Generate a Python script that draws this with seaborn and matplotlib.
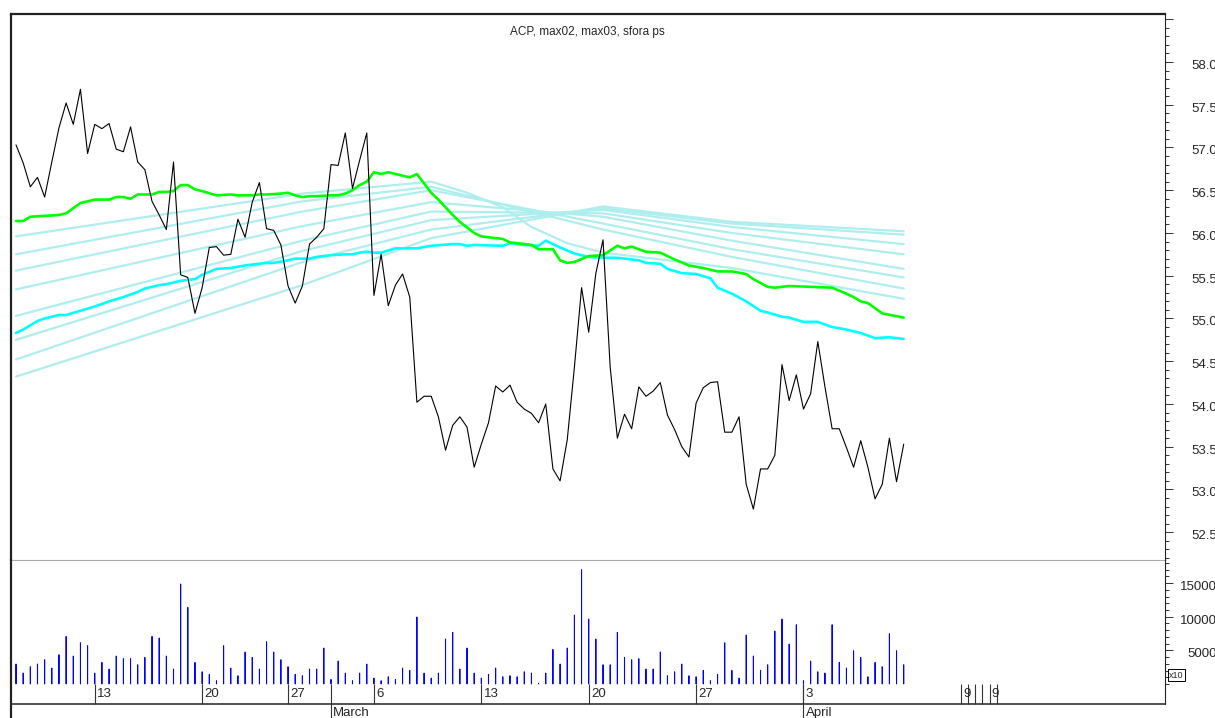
import numpy as np
import pandas as pd
import seaborn as sns
import matplotlib.pyplot as plt
from matplotlib import transforms
from matplotlib.ticker import FixedLocator

# x axis is the bar number (one bar per session)
price = [57.03, 56.82, 56.54, 56.65, 56.42, 56.83, 57.23, 57.52, 57.27, 57.68,
         56.93, 57.27, 57.22, 57.28, 56.98, 56.95, 57.24, 56.83, 56.74, 56.37,
         56.21, 56.04, 56.83, 55.51, 55.48, 55.06, 55.36, 55.83, 55.84, 55.74,
         55.75, 56.16, 55.95, 56.36, 56.59, 56.05, 56.03, 55.86, 55.38, 55.18,
         55.38, 55.87, 55.95, 56.05, 56.80, 56.79, 57.17, 56.52, 56.85, 57.17,
         55.27, 55.75, 55.15, 55.39, 55.52, 55.25, 54.02, 54.09, 54.09, 53.85,
         53.46, 53.75, 53.85, 53.73, 53.26, 53.53, 53.78, 54.21, 54.14, 54.22,
         54.02, 53.94, 53.89, 53.78, 54.00, 53.24, 53.10, 53.58, 54.43, 55.36,
         54.84, 55.53, 55.92, 54.43, 53.60, 53.88, 53.71, 54.20, 54.09, 54.15,
         54.25, 53.87, 53.70, 53.50, 53.38, 54.01, 54.19, 54.25, 54.26, 53.67,
         53.67, 53.85, 53.06, 52.77, 53.24, 53.24, 53.40, 54.46, 54.04, 54.34,
         53.94, 54.12, 54.73, 54.20, 53.71, 53.71, 53.49, 53.26, 53.57, 53.26,
         52.89, 53.06, 53.60, 53.09, 53.53]

volume = [2970, 1630, 2580, 2970, 3620, 2380, 4360, 7080, 4160, 6140,
          5700, 1630, 3220, 2230, 4160, 3770, 3770, 2870, 3960, 7080,
          6840, 4160, 2230, 14860, 11390, 3220, 1830, 1440, 500, 5700,
          2380, 1240, 4760, 3960, 2230, 6290, 4760, 3620, 2580, 1440,
          1240, 2230, 2230, 5350, 690, 3420, 1630, 500, 1630, 2970,
          890, 500, 1090, 690, 2380, 2030, 9960, 1630, 890, 1630,
          6690, 7680, 2230, 5350, 1630, 890, 1440, 2380, 1090, 1240,
          1090, 1830, 1630, 100, 1630, 5150, 2970, 5350, 10250, 16990,
          9660, 6690, 2870, 2870, 7680, 3960, 3620, 3770, 2230, 2230,
          4760, 1240, 1830, 2970, 1240, 1090, 2030, 500, 1440, 6140,
          2030, 890, 7280, 4160, 2030, 2870, 7880, 9660, 5940, 8820,
          500, 3420, 1830, 1630, 8820, 3220, 2380, 4950, 3960, 1090,
          3220, 2580, 7480, 4950, 2870]

green_x = [0, 1, 2, 4, 6, 7, 8, 9, 10, 11, 13, 14, 15, 16, 17, 19, 20, 21, 22, 23,
           24, 25, 26, 28, 30, 31, 33, 34, 35, 37, 38, 39, 40, 41, 42, 44, 45, 46, 47, 48,
           49, 50, 51, 52, 53, 54, 55, 56, 58, 59, 61, 62, 64, 65, 66, 68, 69, 71, 72, 73,
           75, 76, 77, 78, 80, 82, 84, 85, 86, 88, 90, 92, 94, 96, 98, 100, 102, 103, 105, 106,
           108, 114, 116, 117, 118, 119, 121, 124]
green_y = [56.14, 56.14, 56.19, 56.20, 56.21, 56.23, 56.29, 56.35, 56.37, 56.39,
           56.39, 56.42, 56.42, 56.40, 56.45, 56.45, 56.48, 56.48, 56.49, 56.56,
           56.56, 56.51, 56.49, 56.44, 56.45, 56.44, 56.44, 56.45, 56.45, 56.46,
           56.47, 56.44, 56.42, 56.43, 56.43, 56.44, 56.44, 56.46, 56.50, 56.56,
           56.60, 56.71, 56.69, 56.71, 56.69, 56.67, 56.65, 56.69, 56.47, 56.39,
           56.21, 56.13, 56.00, 55.96, 55.95, 55.93, 55.89, 55.87, 55.86, 55.81,
           55.81, 55.68, 55.65, 55.66, 55.73, 55.74, 55.85, 55.82, 55.84, 55.78,
           55.77, 55.69, 55.62, 55.59, 55.55, 55.55, 55.52, 55.46, 55.37, 55.36,
           55.38, 55.36, 55.29, 55.25, 55.20, 55.18, 55.06, 55.01]

cyan_x = [0, 1, 3, 4, 6, 7, 9, 11, 13, 15, 17, 18, 20, 21, 23, 24, 25, 26, 28, 30,
          32, 33, 35, 36, 38, 39, 41, 42, 44, 46, 47, 48, 49, 50, 51, 53, 55, 56, 58, 61,
          62, 63, 64, 68, 69, 71, 73, 74, 76, 78, 80, 82, 84, 86, 87, 88, 90, 91, 93, 95,
          97, 98, 100, 102, 104, 105, 107, 108, 110, 112, 114, 116, 118, 120, 122, 124]
cyan_y = [54.83, 54.87, 54.97, 55.00, 55.04, 55.04, 55.09, 55.14, 55.20, 55.25,
          55.31, 55.35, 55.39, 55.40, 55.44, 55.45, 55.46, 55.51, 55.58, 55.59,
          55.62, 55.63, 55.65, 55.65, 55.68, 55.70, 55.70, 55.72, 55.74, 55.75,
          55.75, 55.77, 55.78, 55.77, 55.77, 55.82, 55.82, 55.82, 55.85, 55.87,
          55.87, 55.85, 55.86, 55.85, 55.88, 55.86, 55.85, 55.91, 55.83, 55.76,
          55.72, 55.71, 55.71, 55.69, 55.68, 55.65, 55.64, 55.58, 55.53, 55.52,
          55.47, 55.36, 55.29, 55.20, 55.09, 55.07, 55.02, 55.01, 54.96, 54.96,
          54.90, 54.87, 54.83, 54.77, 54.78, 54.76]

# pale band lines; the first one peaks early and drops fastest
pale_steep_x = [0, 40, 58, 63, 68, 72, 77, 82, 100, 124]
pale_steep_y = [55.96, 56.46, 56.60, 56.47, 56.30, 56.07, 55.88, 55.77, 55.59, 55.23]
pale_x = [0, 40, 58, 82, 100, 124]
pale_rest = [
    [55.75, 56.37, 56.54, 56.04, 55.72, 55.35],
    [55.56, 56.25, 56.50, 56.11, 55.81, 55.48],
    [55.34, 56.08, 56.36, 56.19, 55.91, 55.58],
    [55.03, 55.91, 56.25, 56.23, 56.00, 55.75],
    [54.75, 55.79, 56.15, 56.27, 56.07, 55.87],
    [54.52, 55.66, 56.04, 56.29, 56.11, 55.98],
    [54.32, 55.39, 55.94, 56.31, 56.13, 56.02],
]

price_ticks = [52.5, 53.0, 53.5, 54.0, 54.5, 55.0, 55.5, 56.0, 56.5, 57.0, 57.5, 58.0]
vol_ticks = [5000, 10000, 15000]
day_tick_pos = [11, 26, 38, 50, 65, 80, 95, 110, 132, 133, 134, 135, 136, 137]
day_label_pos = [11, 26, 38, 50, 65, 80, 95, 110, 132, 136]
day_labels = ["13", "20", "27", "6", "13", "20", "27", "3", "9", "9"]
month_pos = [44, 110]
month_labels = ["March", "April"]

sns.set_style("white")
plt.rcParams["font.family"] = ["Liberation Sans", "DejaVu Sans"]

W, H = 1215, 718
fig = plt.figure(figsize=(W / 100, H / 100), dpi=100)
ax = fig.add_axes([11 / W, 1 - 560 / H, 1154 / W, 546 / H])
axv = fig.add_axes([11 / W, 1 - 704 / H, 1154 / W, 144 / H])
axv.patch.set_visible(False)

# price panel
for yv in pale_rest:
    sns.lineplot(x=pale_x, y=yv, ax=ax, color="#afeeee", linewidth=1.6)
sns.lineplot(x=pale_steep_x, y=pale_steep_y, ax=ax, color="#afeeee", linewidth=1.6)
sns.lineplot(x=cyan_x, y=cyan_y, ax=ax, color="#00ffff", linewidth=1.9)
sns.lineplot(x=green_x, y=green_y, ax=ax, color="#00ff00", linewidth=1.9)
idx = np.arange(len(price))
sns.lineplot(x=idx, y=price, ax=ax, color="black", linewidth=0.8)

# volume panel: thin bars, the edge stroke keeps every bar about 1px wide
vol_df = pd.DataFrame({"bar": np.arange(len(volume)), "volume": volume})
sns.barplot(data=vol_df, x="bar", y="volume", ax=axv, native_scale=True,
            width=0.02, color="#0000ff", saturation=1, errorbar=None,
            linewidth=0.7, edgecolor="#0000ff")
for p in axv.patches:
    p.set_snap(False)

xlim = (-0.7, 160.5)
for a in (ax, axv):
    a.set_xlim(*xlim)
    a.set_xlabel("")
    a.set_ylabel("")

ax.set_ylim(52.175, 58.561)
axv.set_ylim(-2972, 18425)

# right hand scales
ax.yaxis.tick_right()
ax.yaxis.set_major_locator(FixedLocator(price_ticks + [58.5]))
ax.yaxis.set_minor_locator(FixedLocator(np.round(np.arange(52.2, 58.55, 0.1), 1)))
ax.set_yticklabels([])
ax.tick_params(axis="y", which="major", length=5.5, width=0.7, color="#333333", direction="out")
ax.tick_params(axis="y", which="minor", length=3, width=0.7, color="#333333", direction="out")
ax.tick_params(axis="x", bottom=False, labelbottom=False)

axv.yaxis.tick_right()
axv.yaxis.set_major_locator(FixedLocator(vol_ticks))
axv.yaxis.set_minor_locator(FixedLocator(list(range(0, 18001, 1000))))
axv.set_yticklabels([])
axv.tick_params(axis="y", which="major", length=5.5, width=0.7, color="#333333", direction="out")
axv.tick_params(axis="y", which="minor", length=3, width=0.7, color="#333333", direction="out")

# date axis
axv.xaxis.remove_overlapping_locs = False
axv.xaxis.set_major_locator(FixedLocator(day_tick_pos))
axv.xaxis.set_minor_locator(FixedLocator(month_pos))
axv.set_xticklabels([])
axv.tick_params(axis="x", which="major", direction="in", length=14.4, width=0.8,
                color="#333333", bottom=True, labelbottom=False)
axv.tick_params(axis="x", which="minor", direction="inout", length=28.8, width=0.8,
                color="#333333", bottom=True, labelbottom=False)

# spines
for side in ("left", "top"):
    ax.spines[side].set_linewidth(1.6)
    ax.spines[side].set_color("#222222")
ax.spines["right"].set_linewidth(0.8)
ax.spines["right"].set_color("#222222")
ax.spines["bottom"].set_linewidth(0.8)
ax.spines["bottom"].set_color("#aaaaaa")

axv.spines["top"].set_visible(False)
axv.spines["left"].set_linewidth(1.6)
axv.spines["left"].set_color("#222222")
axv.spines["left"].set_bounds(-5300, 18425)
axv.spines["right"].set_linewidth(0.8)
axv.spines["right"].set_color("#222222")
axv.spines["bottom"].set_linewidth(1.2)
axv.spines["bottom"].set_color("#333333")

# tick labels as text, right aligned at the figure edge
lab_x = (1217 - 11) / 1154
shift = transforms.ScaledTranslation(0, -0.04, fig.dpi_scale_trans)
ptrans = transforms.blended_transform_factory(ax.transAxes, ax.transData) + shift
for v in price_ticks:
    ax.text(lab_x, v, f"{v:.1f}", transform=ptrans, ha="right", va="center",
            fontsize=9.5, clip_on=False)
vtrans = transforms.blended_transform_factory(axv.transAxes, axv.transData) + shift
for v in vol_ticks:
    axv.text(lab_x, v, str(v), transform=vtrans, ha="right", va="center",
             fontsize=9.5, clip_on=False)

dtrans = transforms.blended_transform_factory(axv.transData, axv.transAxes)
for pos, lab in zip(day_label_pos, day_labels):
    axv.text(pos + 0.3, (704 - 694) / 144, lab, transform=dtrans, ha="left",
             va="center", fontsize=9.5, clip_on=False)
for pos, lab in zip(month_pos, month_labels):
    axv.text(pos + 0.3, (704 - 713) / 144, lab, transform=dtrans, ha="left",
             va="center", fontsize=9.5, clip_on=False)

ax.text((587 - 11) / 1154, (560 - 32) / 546, "ACP, max02, max03, sfora ps",
        transform=ax.transAxes, ha="center", va="center", fontsize=8.5)

fig.text(1169 / W, 1 - 675 / H, "x10", fontsize=6.5, ha="left", va="center",
         bbox=dict(boxstyle="square,pad=0.15", fc="white", ec="black", lw=0.7))

fig.savefig("out.png", dpi=100)
